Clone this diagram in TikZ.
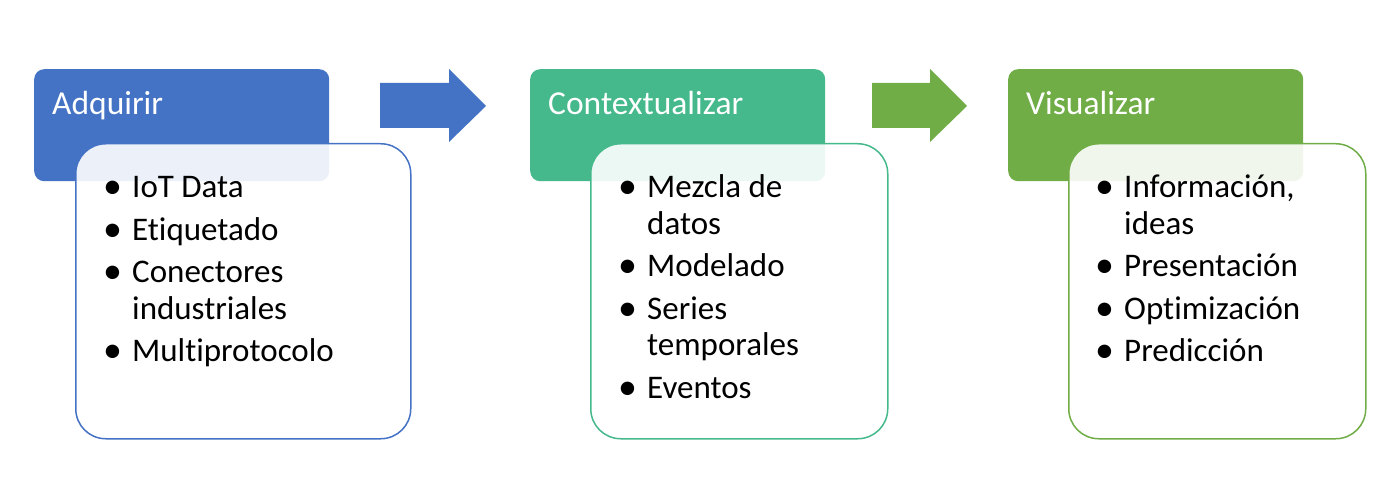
\documentclass[tikz,border=0pt]{standalone}
\usepackage{fontspec}
\usepackage{graphicx}
\setmainfont{Carlito}[Ligatures=NoCommon]
\usetikzlibrary{positioning}
\definecolor{acqblue}{RGB}{68,114,196}
\definecolor{ctxteal}{RGB}{69,185,140}
\definecolor{visgreen}{RGB}{112,173,71}
\newcommand{\bitem}[1]{\par\hangindent=26pt\hangafter=1\noindent\makebox[26pt][l]{\hspace*{-3pt}\raisebox{-0.8pt}{\scalebox{1.15}{\textbullet}}}#1}
\newcommand{\blist}[1]{\parbox[t]{300pt}{\setlength{\parskip}{6pt}\fontsize{33}{36.5}\selectfont\raggedright #1}}

\begin{document}
\begin{tikzpicture}[x=1pt,y=-1pt,
  head/.style={rectangle,rounded corners=10pt,anchor=north west,minimum width=295pt,
    inner xsep=18pt,inner ysep=0pt,text width=259pt,text height=45pt,text depth=67pt,
    text=white,font=\fontsize{33.5}{38}\selectfont},
  panel/.style={rectangle,rounded corners=30pt,anchor=north west,fill=white,fill opacity=0.9,
    line width=1.5pt,minimum width=#1,minimum height=295pt,inner sep=0pt},
  listtxt/.style={anchor=base west,inner sep=0pt}]
  \useasboundingbox (0,0) rectangle (1385,478);
  % headers
  \node[head,fill=acqblue] (acqhead) at (34,69) {Adquirir};
  \node[head,fill=ctxteal] (ctxhead) at (530,69) {Contextualizar};
  \node[head,fill=visgreen] (vishead) at (1008,69) {Visualizar};
  % block arrows
  \fill[acqblue] (380,83) -- (449,83) -- (449,69) -- (486,106) -- (449,142) -- (449,128) -- (380,128) -- cycle;
  \fill[visgreen] (872,83) -- (930,83) -- (930,69) -- (967,106) -- (930,142) -- (930,128) -- (872,128) -- cycle;
  % panels
  \node[panel=335pt,draw=acqblue] (acqbody) at (75,143) {};
  \node[panel=297pt,draw=ctxteal] (ctxbody) at (590,143) {};
  \node[panel=297pt,draw=visgreen] (visbody) at (1068,143) {};
  % lists
  \node[listtxt] (acqlist) at (106,198) {\blist{\bitem{IoT Data}\bitem{Etiquetado}
    \bitem{Conectores\newline industriales}\bitem{Multiprotocolo}}};
  \node[listtxt] (ctxlist) at (621,198) {\blist{\bitem{Mezcla de\newline datos}\bitem{Modelado}
    \bitem{Series\newline temporales}\bitem{Eventos}}};
  \node[listtxt] (vislist) at (1098,198) {\blist{\bitem{Información,\newline ideas}\bitem{Presentación}
    \bitem{Optimización}\bitem{Predicción}}};
\end{tikzpicture}
\end{document}
